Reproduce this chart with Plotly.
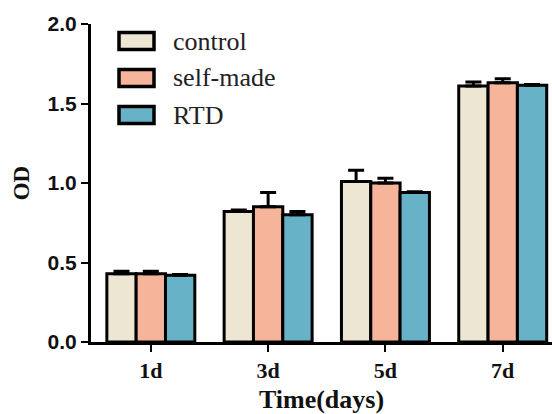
import plotly.graph_objects as go

categories = ["1d", "3d", "5d", "7d"]
series_names = ["control", "self-made", "RTD"]
control = [0.43, 0.82, 1.01, 1.61]
control_err = [0.015, 0.01, 0.07, 0.025]
selfmade = [0.43, 0.85, 1.00, 1.63]
selfmade_err = [0.015, 0.09, 0.03, 0.025]
rtd = [0.42, 0.80, 0.94, 1.615]
rtd_err = [0.005, 0.02, 0.005, 0.005]
colors = ["#EDE6D3", "#F6B49A", "#68B2C8"]
y_ticks = [0.0, 0.5, 1.0, 1.5, 2.0]

SERIF = "Liberation Serif"
SANS = "Liberation Sans"

fig = go.Figure()
for name, vals, errs, col in zip(series_names, [control, selfmade, rtd],
                                 [control_err, selfmade_err, rtd_err], colors):
    fig.add_trace(go.Bar(
        x=categories, y=vals, name=name,
        marker=dict(color=col, line=dict(color="black", width=3)),
        error_y=dict(type="data", array=errs, arrayminus=[0]*len(errs),
                     symmetric=False, color="black", thickness=3, width=8),
        showlegend=False,
    ))

# Manual legend (boxes + text)
L, T, W, H = 91, 24, 461, 318
leg_x0, leg_y = 119, 41
for i, (name, col) in enumerate(zip(series_names, colors)):
    yc = leg_y + i * 37
    fig.add_shape(type="rect", xref="paper", yref="paper",
                  x0=(leg_x0 - L) / W, x1=(leg_x0 + 35 - L) / W,
                  y0=(T + H - (yc + 8.5)) / H, y1=(T + H - (yc - 8.5)) / H,
                  fillcolor=col, line=dict(color="black", width=3.5))
    fig.add_annotation(xref="paper", yref="paper", x=(leg_x0 + 52 - L) / W,
                       y=(T + H - yc) / H, text=name, showarrow=False,
                       xanchor="left", yanchor="middle",
                       font=dict(family=SERIF, size=26, color="#222"))

fig.update_layout(
    width=552, height=414,
    margin=dict(l=L, r=0, t=T, b=414 - T - H),
    paper_bgcolor="white", plot_bgcolor="white",
    barmode="group", bargap=0.25, bargroupgap=0,
    xaxis=dict(
        range=[-0.51, 3.42], showline=True, linecolor="black", linewidth=3,
        ticks="outside", ticklen=7, tickwidth=2, tickcolor="black",
        tickfont=dict(family=SERIF, size=22, color="#111", weight="bold"),
        title=dict(text="Time(days)", standoff=12,
                   font=dict(family=SERIF, size=26, color="#111", weight="bold")),
        showgrid=False, zeroline=False,
    ),
    yaxis=dict(
        range=[0, 2.0], tickvals=y_ticks, ticktext=[f"{v:.1f}" for v in y_ticks],
        showline=True, linecolor="black", linewidth=3,
        ticks="outside", ticklen=7, tickwidth=2, tickcolor="black",
        tickfont=dict(family=SANS, size=21, color="#111", weight="bold"),
        title=dict(text="OD", standoff=12,
                   font=dict(family=SERIF, size=23, color="#111", weight="bold")),
        showgrid=False, zeroline=False,
    ),
)

fig.write_html("out.html")
